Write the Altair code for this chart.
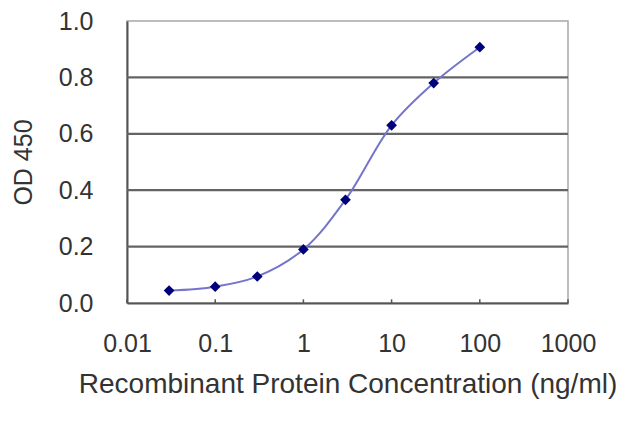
import altair as alt
import pandas as pd

# data
conc = [0.03, 0.1, 0.3, 1, 3, 10, 30, 100]
od = [0.044, 0.058, 0.094, 0.19, 0.366, 0.63, 0.78, 0.907]
x_ticks = [0.01, 0.1, 1, 10, 100, 1000]
y_ticks = [0.0, 0.2, 0.4, 0.6, 0.8, 1.0]
grid_vals = [0.2, 0.4, 0.6, 0.8]
tick_len = [0.0, 0.013]

df = pd.DataFrame({"conc": conc, "od": od})
grid_df = pd.DataFrame({"od": grid_vals})
tick_df = pd.DataFrame({"conc": x_ticks, "od": tick_len[0], "od2": tick_len[1]})

FONT = "Liberation Sans"
TXT = "#333333"
XTITLE = "Recombinant Protein Concentration (ng/ml)"
YTITLE = "OD 450"
xscale = alt.Scale(type="log", domain=[0.01, 1000], nice=False)
yscale = alt.Scale(domain=[0, 1], nice=False, zero=True)

xaxis = alt.Axis(
    values=x_ticks, format="~g", grid=False, ticks=False, tickSize=0,
    domainColor="#555555", domainWidth=2,
    labelFont=FONT, labelFontSize=25, labelColor=TXT, labelPadding=40,
    labelBaseline="middle", labelFlush=False,
    titleFont=FONT, titleFontSize=28, titleColor=TXT, titleFontWeight="normal",
    titleX=220.5, titleY=81, titleBaseline="middle", titleAlign="center",
)
yaxis = alt.Axis(
    values=y_ticks, format=".1f", grid=False, ticks=False, tickSize=0,
    domainColor="#555555", domainWidth=2,
    labelFont=FONT, labelFontSize=25, labelColor=TXT, labelPadding=34,
    labelFlush=False,
    titleFont=FONT, titleFontSize=25, titleColor=TXT, titleFontWeight="normal",
    titleX=-104, titleY=141, titleAngle=270, titleBaseline="middle", titleAlign="center",
)

X = alt.X("conc:Q", scale=xscale, axis=xaxis, title=XTITLE)
Y = alt.Y("od:Q", scale=yscale, axis=yaxis, title=YTITLE)

grid = alt.Chart(grid_df).mark_rule(color="#646464", strokeWidth=2.2).encode(y=Y)
ticks = alt.Chart(tick_df).mark_rule(color="#555555", strokeWidth=1.5).encode(
    x=X, y=Y, y2="od2:Q"
)
line = alt.Chart(df).mark_line(
    interpolate="catmull-rom", color="#7474cc", strokeWidth=2
).encode(x=X, y=Y)
points = alt.Chart(df).mark_point(
    shape="diamond", filled=True, color="#00007a", size=115, opacity=1
).encode(x=X, y=Y)

chart = alt.layer(grid, line, ticks, points).properties(
    width=441, height=282,
    autosize=alt.AutoSizeParams(type="none"),
    padding={"left": 119, "top": 13, "right": 64, "bottom": 116},
    background="white",
).configure_view(stroke="#a8a8a8", strokeWidth=1.5)

chart.save("out.html", embed_options={"renderer": "svg", "actions": False})
